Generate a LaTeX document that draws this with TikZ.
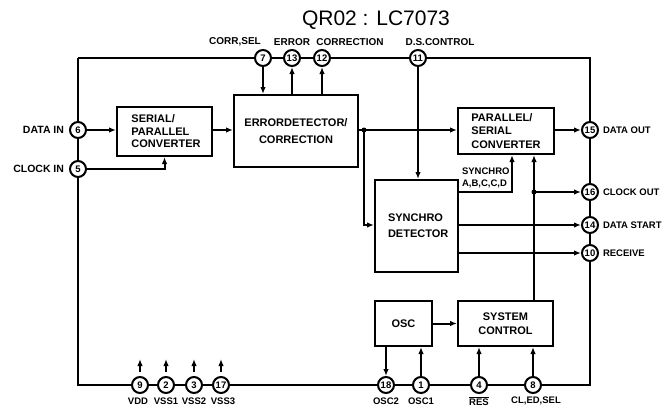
\documentclass[tikz,border=0pt]{standalone}
\usepackage{fontspec}
\setmainfont{Liberation Sans}
\usetikzlibrary{arrows.meta}
\begin{document}
\begin{tikzpicture}[x=1pt,y=-1pt,
  line width=2pt,
  pin/.style={draw,circle,minimum size=16pt,inner sep=0pt,fill=white,font=\bfseries\fontsize{9.5}{9.5}\selectfont},
  blk/.style={draw,rectangle,inner sep=0pt,font=\bfseries\fontsize{11}{13.5}\selectfont},
  lbl/.style={font=\bfseries\fontsize{10}{11}\selectfont,inner sep=0pt},
  rlbl/.style={lbl,font=\bfseries\fontsize{9.5}{11}\selectfont,anchor=west},
  blbl/.style={lbl,font=\bfseries\fontsize{9.5}{11}\selectfont},
  arr/.style={-{Latex[length=7pt,width=5.5pt]}},
  dot/.style={circle,fill,inner sep=0pt,minimum size=5pt}]
\useasboundingbox (0,0) rectangle (666,415);
% title
\node[font=\fontsize{21}{21}\selectfont,inner sep=0pt] (title) at (376,20) {QR02 : LC7073};
% frame corners
\coordinate (tl) at (78,58);
\coordinate (tr) at (590,58);
\coordinate (bl) at (78,385);
\coordinate (br) at (590,385);
% pins
\node[pin] (p6) at (78,130) {6};
\node[pin] (p5) at (78,169) {5};
\node[pin] (p7) at (263,58) {7};
\node[pin] (p13) at (292,58) {13};
\node[pin] (p12) at (322,58) {12};
\node[pin] (p11) at (418,58) {11};
\node[pin] (p15) at (590,130) {15};
\node[pin] (p16) at (590,192) {16};
\node[pin] (p14) at (590,225) {14};
\node[pin] (p10) at (590,253) {10};
\node[pin] (p9) at (140,385) {9};
\node[pin] (p2) at (166,385) {2};
\node[pin] (p3) at (194,385) {3};
\node[pin] (p17) at (221,385) {17};
\node[pin] (p18) at (386,385) {18};
\node[pin] (p1) at (421,385) {1};
\node[pin] (p4) at (479,385) {4};
\node[pin] (p8) at (533,385) {8};
% frame
\draw (tl) -- (p7) -- (p13) -- (p12) -- (p11) -- (tr) -- (p15) -- (p16) -- (p14) -- (p10) -- (br)
  -- (p8) -- (p4) -- (p1) -- (p18) -- (p17) -- (p3) -- (p2) -- (p9) -- (bl) -- (p5) -- (p6) -- (tl);
% blocks
\node[blk,minimum width=95pt,minimum height=49pt,align=left,font=\bfseries\fontsize{11}{12.5}\selectfont] (sp) at (164.5,131.5) {\hspace*{3pt}SERIAL/\\\hspace*{3pt}PARALLEL\\\hspace*{3pt}CONVERTER};
\node[blk,minimum width=124pt,minimum height=72pt,align=center,font=\bfseries\fontsize{11}{17}\selectfont] (err) at (296,131) {ERRORDETECTOR/\\CORRECTION};
\node[blk,minimum width=96pt,minimum height=46pt,align=left] (ps) at (506,131) {PARALLEL/\\SERIAL\\CONVERTER};
\node[blk,minimum width=83pt,minimum height=92pt] (sd) at (416.5,226) {};
\node[blk,draw=none,anchor=west,align=left,font=\bfseries\fontsize{11}{15.5}\selectfont] (sdt) at (387,225.5) {SYNCHRO\\DETECTOR};
\node[blk,minimum width=57pt,minimum height=45pt] (osc) at (403.5,323.5) {OSC};
\node[blk,minimum width=95pt,minimum height=45pt,align=center,font=\bfseries\fontsize{11}{14}\selectfont] (sc) at (505.5,323.5) {SYSTEM\\CONTROL};
% junctions
\coordinate (j1) at (364,130);
\coordinate (j2) at (534,192);
\coordinate (syc) at (512,192);
\node[dot] (d1) at (j1) {};
\node[dot] (d2) at (j2) {};
% connectors
\draw[arr] (p6) -- (p6 -| sp.west);
\draw[arr] (p5) -| (sp.south);
\draw[arr] (sp.east |- p6) -- (err.west |- p6);
\draw (err.east |- j1) -- (j1);
\draw[arr] (j1) -- (ps.west |- j1);
\draw[arr] (j1) |- (sd.west |- p14);
\draw[arr] (p7) -- (p7 |- err.north);
\draw[arr] (p13 |- err.north) -- (p13);
\draw[arr] (p12 |- err.north) -- (p12);
\draw[arr] (p11) -- (p11 |- sd.north);
\draw[arr] (ps.east |- p15) -- (p15);
\draw[arr] (sd.east |- syc) -| (syc |- ps.south);
\draw[arr] (sc.north -| j2) -- (j2 |- ps.south);
\draw[arr] (j2) -- (p16);
\draw[arr] (sd.east |- p14) -- (p14);
\draw[arr] (sd.east |- p10) -- (p10);
\draw[arr] (osc.east) -- (sc.west);
\draw[arr] (p18 |- osc.south) -- (p18);
\draw[arr] (p1) -- (p1 |- osc.south);
\draw[arr] (p4) -- (p4 |- sc.south);
\draw[arr] (p8) -- (p8 |- sc.south);
% power arrows
\coordinate (v9) at (140,359);
\coordinate (v2) at (166,359);
\coordinate (v3) at (194,359);
\coordinate (v17) at (221,359);
\foreach \p in {9,2,3,17} \draw[arr,line width=1.6pt,shorten <=4pt] (p\p) -- (v\p);
% labels
\node[lbl,anchor=east,font=\bfseries\fontsize{10.5}{11}\selectfont] (lDI) at ([xshift=-4pt]p6.west) {DATA IN};
\node[lbl,anchor=east,font=\bfseries\fontsize{10.5}{11}\selectfont] (lCI) at ([xshift=-4pt]p5.west) {CLOCK IN};
\node[lbl] (l7) at (235,42) {CORR,SEL};
\node[lbl] (l13) at (292,42) {ERROR};
\node[lbl] (l12) at (350,42) {CORRECTION};
\node[lbl] (l11) at (440,42) {D.S.CONTROL};
\node[rlbl] (l15) at ([xshift=3pt]p15.east) {DATA OUT};
\node[rlbl] (l16) at ([xshift=3pt]p16.east) {CLOCK OUT};
\node[rlbl] (l14) at ([xshift=3pt]p14.east) {DATA START};
\node[rlbl] (l10) at ([xshift=3pt]p10.east) {RECEIVE};
\node[lbl,align=left,font=\bfseries\fontsize{9.5}{12.5}\selectfont,anchor=south west] (lsy) at (461,189) {SYNCHRO\\A,B,C,C,D};
\node[blbl] (l9) at (138,401) {VDD};
\node[blbl] (l2) at (166,401) {VSS1};
\node[blbl] (l3) at (194,401) {VSS2};
\node[blbl] (l17) at (223,401) {VSS3};
\node[blbl] (l18) at (386,401) {OSC2};
\node[blbl] (l1) at (421,401) {OSC1};
\node[blbl] (l4) at (479,401) {$\overline{\mbox{RES}}$};
\node[blbl] (l8) at (536,401) {CL,ED,SEL};
\end{tikzpicture}
\end{document}
